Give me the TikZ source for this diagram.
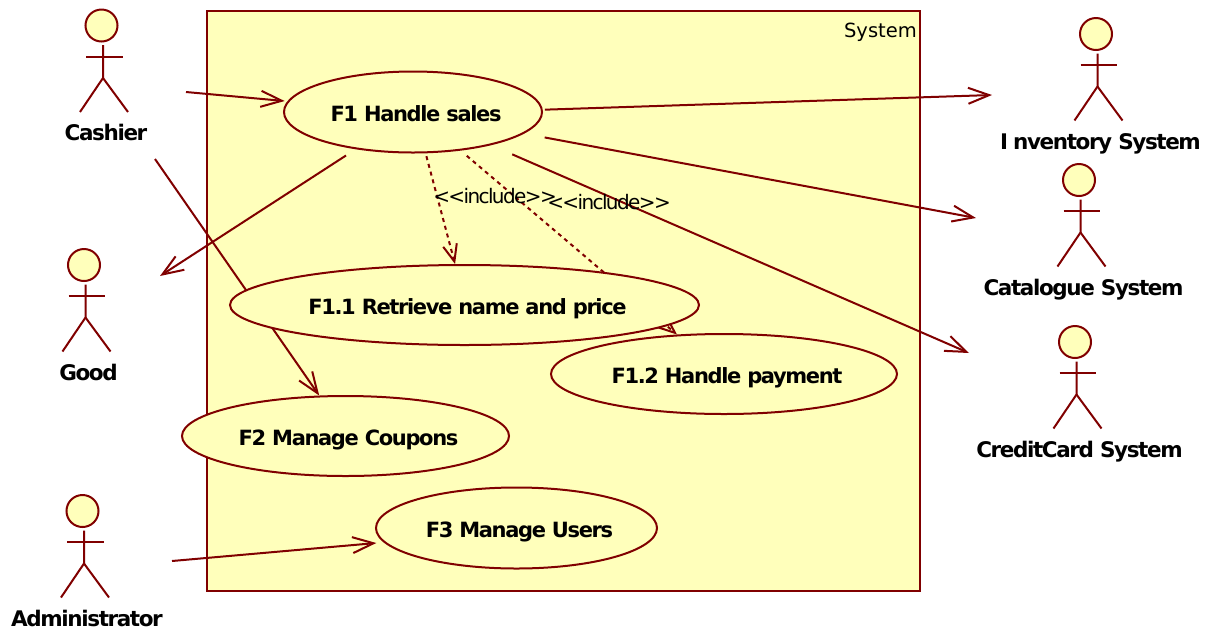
\documentclass[tikz,border=0pt]{standalone}
\usepackage{fontspec}
\setmainfont[BoldFeatures={LetterSpace=-6.5}]{DejaVu Sans}
\newfontfamily\inclfont[LetterSpace=-8]{DejaVu Sans}
\usetikzlibrary{shapes.geometric,arrows.meta,backgrounds,calc}
\definecolor{umlline}{HTML}{800000}
\definecolor{umlfill}{HTML}{FFFFBB}
\tikzset{
  usecase/.style={ellipse, draw=umlline, fill=umlfill, line width=2pt, inner xsep=-40pt, inner ysep=-10pt,
                  text height=19.7pt, text depth=0pt, execute at begin node=\hspace{6pt},
                  font=\fontsize{21}{25}\selectfont\bfseries},
  sysbox/.style={draw=umlline, fill=umlfill, line width=2pt, inner sep=0pt,
                 minimum width=713pt, minimum height=580pt},
  actorhead/.style={circle, draw=umlline, fill=umlfill, line width=2pt, inner sep=0pt, minimum size=32pt},
  actorline/.style={draw=umlline, line width=2pt},
  actorlabel/.style={text height=15.7pt, text depth=0pt, inner sep=0pt, font=\fontsize{21.5}{25}\selectfont\bfseries},
  arr/.style={draw=umlline, line width=2pt, -{Straight Barb[length=21pt,width=16pt,line width=2pt]}},
  dasharr/.style={draw=umlline, line width=2pt, dash pattern=on 4pt off 4pt,
                  -{Straight Barb[length=17pt,width=14pt,line width=2pt]}},
  note/.style={font=\fontsize{20}{24}\selectfont\inclfont},
  syslabel/.style={inner sep=0pt, font=\fontsize{19.5}{24}\selectfont}
}
\newcommand{\actor}[4]{
  \begin{scope}[shift={(#2,#3)}]
    \node[actorhead] (#1) at (0,0) {};
    \draw[actorline] (1.5,19.5) -- (1.5,52.5) -- (-21.5,86.5);
    \draw[actorline] (1.5,52.5) -- (26.5,86.5);
    \draw[actorline] (-15.5,31) -- (21,31);
    \node[actorlabel] (#1-label) at (4.5,107.5) {#4};
  \end{scope}
}
\begin{document}
\begin{tikzpicture}[x=1pt,y=-1pt]
  \useasboundingbox (0,0) rectangle (1208,633);

  % use cases
  \node[usecase, minimum width=258pt, minimum height=81pt] (f1)  at (413,112)   {F1 Handle sales};
  \node[usecase, minimum width=469pt, minimum height=80pt] (f11) at (464.5,305) {F1.1 Retrieve name and price};
  \node[usecase, minimum width=346pt, minimum height=80pt] (f12) at (724,374)   {F1.2 Handle payment};
  \node[usecase, minimum width=327pt, minimum height=80pt] (f2)  at (345.5,436) {F2 Manage Coupons};
  \node[usecase, minimum width=281pt, minimum height=81pt] (f3)  at (516.5,528) {F3 Manage Users};

  % actors
  \actor{cashier}{101.5}{25.5}{Cashier}
  \actor{good}{84}{265}{Good}
  \actor{admin}{82.5}{511}{Administrator}
  \actor{inventory}{1096}{34}{I\kern5pt nventory System}
  \actor{catalogue}{1079}{180}{Catalogue System}
  \actor{credit}{1075}{342}{CreditCard System}

  % free ends next to the actors
  \coordinate (cashier-a) at (186,92);
  \coordinate (cashier-b) at (155,159);
  \coordinate (good-in)   at (160,276);
  \coordinate (admin-out) at (172,561);
  \coordinate (inv-in)    at (992,95);
  \coordinate (cat-in)    at (976,218);
  \coordinate (credit-in) at (969,353);

  \begin{scope}[on background layer]
    \node[sysbox] (system) at (563.5,301) {};
    \draw[arr] (cashier-a) -- ($(f1.175)+(-3,0)$);
    \draw[arr] (cashier-b) -- (f2.123);
    \draw[arr] (admin-out) -- ($(f3.186)+(-7,1)$);
    \draw[arr, shorten <=11.5pt] (f1.213.7) -- (good-in);
    \draw[arr, shorten <=2pt]  (f1.1) -- (inv-in);
    \draw[arr, shorten <=21pt] (f1.-11.9) -- (cat-in);
    \draw[arr, shorten <=23pt] (f1.-23.8) -- (credit-in);
    \draw[dasharr, shorten <=3pt] (f1.-73) -- (f11.103.4);
    \draw[dasharr, shorten <=8pt] (f1.-39.4) -- (f12.140.7);
  \end{scope}

  \node[syslabel, anchor=north east] (systemlabel) at (917,22.5) {System};
  \node[note] (incl-a) at (495,196) {{<}{<}include{>}{>}};
  \node[note] (incl-b) at (609,202) {{<}{<}include{>}{>}};
\end{tikzpicture}
\end{document}
